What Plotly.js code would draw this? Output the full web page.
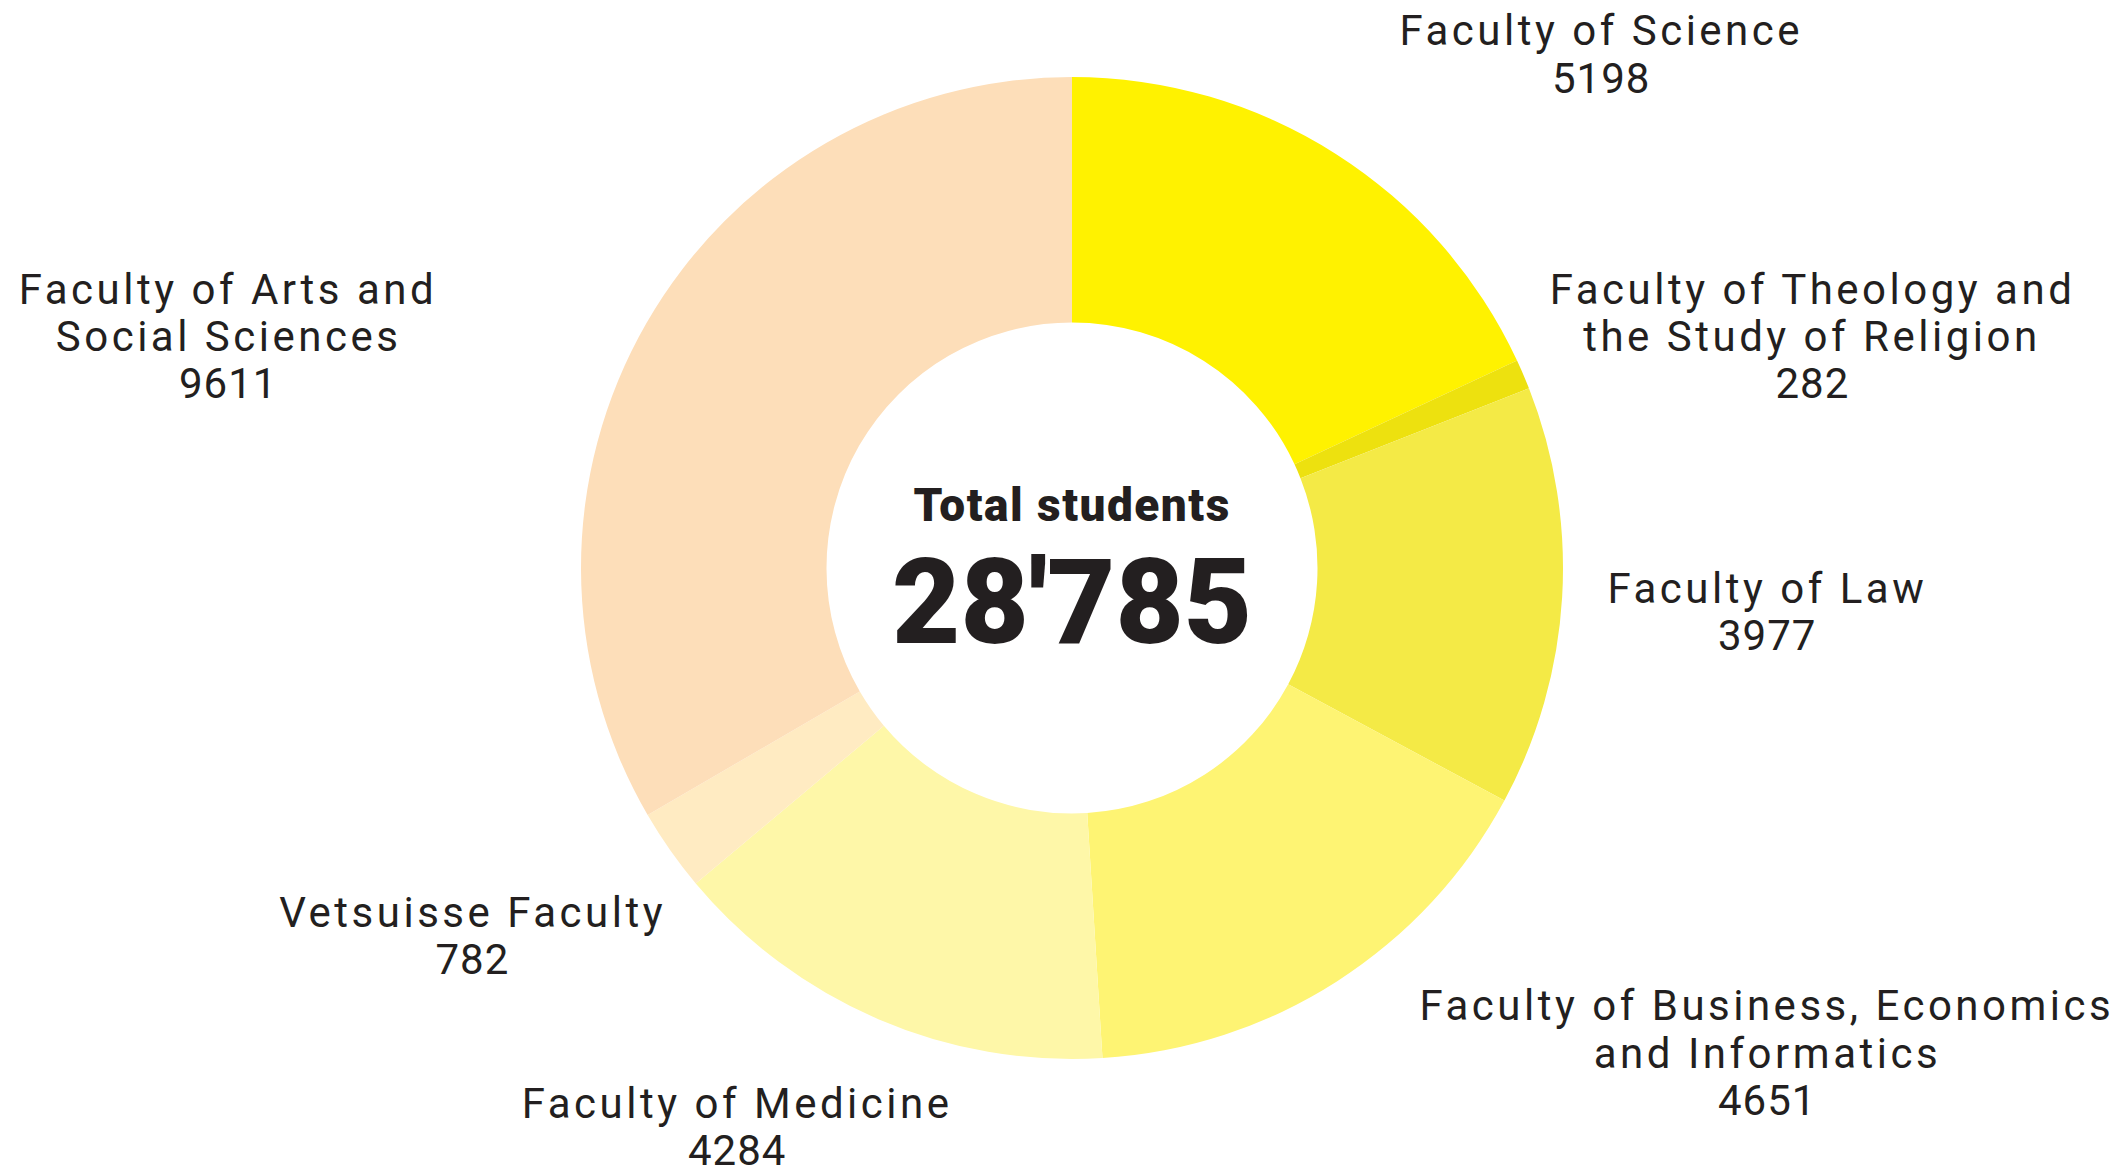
<!DOCTYPE html>
<html>
<head>
<meta charset="utf-8">
<script src="https://cdn.plot.ly/plotly-3.0.1.min.js"></script>
<style>html,body{margin:0;padding:0;background:#fff;}#chart{width:2128px;height:1175px;}</style>
</head>
<body>
<div id="chart"></div>
<script>
// Data
const faculties = [
  "Faculty of Science",
  "Faculty of Theology and the Study of Religion",
  "Faculty of Law",
  "Faculty of Business, Economics and Informatics",
  "Faculty of Medicine",
  "Vetsuisse Faculty",
  "Faculty of Arts and Social Sciences"
];
const students = [5198, 282, 3977, 4651, 4284, 782, 9611];
const sliceColors = ["#FFF200", "#EDE10F", "#F4EA46", "#FEF473", "#FEF7A8", "#FFEBC2", "#FDDEB9"];
// label text lines (name lines), value appended as last line
const labelLines = [
  ["Faculty of Science"],
  ["Faculty of Theology and", "the Study of Religion"],
  ["Faculty of Law"],
  ["Faculty of Business, Economics", "and Informatics"],
  ["Faculty of Medicine"],
  ["Vetsuisse Faculty"],
  ["Faculty of Arts and", "Social Sciences"]
];
// label anchor (pixel center x, first line center y)
const labelPos = [
  [1601, 31], [1812, 289], [1767, 588], [1767, 1006], [737, 1103], [472, 912], [228, 289]
];
const centerTitle = "Total students";
const total = students.reduce((a, b) => a + b, 0);
const totalText = String(total).replace(/\B(?=(\d{3})+(?!\d))/g, "'");

const W = 2128, H = 1175;
const cx = 1072, cy = 568, R = 491;
const lineH = 47;
const textColor = "#231F20";

const annotations = [];
const spacing = [];
labelLines.forEach((lines, i) => {
  const all = lines.concat([String(students[i])]);
  all.forEach((t, k) => {
    annotations.push({
      text: t, showarrow: false, xref: "paper", yref: "paper",
      x: labelPos[i][0] / W, y: 1 - (labelPos[i][1] + k * lineH) / H,
      xanchor: "center", yanchor: "middle",
      font: {family: "Roboto, sans-serif", size: 42, color: textColor}
    });
    spacing.push(k < lines.length ? "3.5px" : "1px");
  });
});
annotations.push({
  text: centerTitle, showarrow: false, xref: "paper", yref: "paper",
  x: cx / W, y: 1 - 505 / H, xanchor: "center", yanchor: "middle",
  font: {family: "Roboto, sans-serif", size: 46, color: textColor, weight: 900}
});
spacing.push("1.5px");
annotations.push({
  text: totalText, showarrow: false, xref: "paper", yref: "paper",
  x: cx / W, y: 1 - 603 / H, xanchor: "center", yanchor: "middle",
  font: {family: "Roboto, sans-serif", size: 118, color: textColor, weight: 900}
});
spacing.push("0px");

const trace = {
  type: "pie",
  labels: faculties,
  values: students,
  hole: 0.5,
  sort: false,
  direction: "clockwise",
  rotation: 0,
  textinfo: "none",
  hoverinfo: "label+value",
  marker: {colors: sliceColors, line: {width: 0}},
  domain: {x: [(cx - R) / W, (cx + R) / W], y: [1 - (cy + R) / H, 1 - (cy - R) / H]},
  showlegend: false
};

Plotly.newPlot("chart", [trace], {
  width: W, height: H,
  margin: {l: 0, r: 0, t: 0, b: 0},
  paper_bgcolor: "#ffffff",
  showlegend: false,
  annotations: annotations
}, {displayModeBar: false, staticPlot: true}).then(() => {
  document.querySelectorAll("#chart g.annotation").forEach(g => {
    const idx = +g.getAttribute("data-index");
    const t = g.querySelector("text.annotation-text");
    if (t && spacing[idx] !== undefined) t.style.letterSpacing = spacing[idx];
  });
});
</script>
</body>
</html>
